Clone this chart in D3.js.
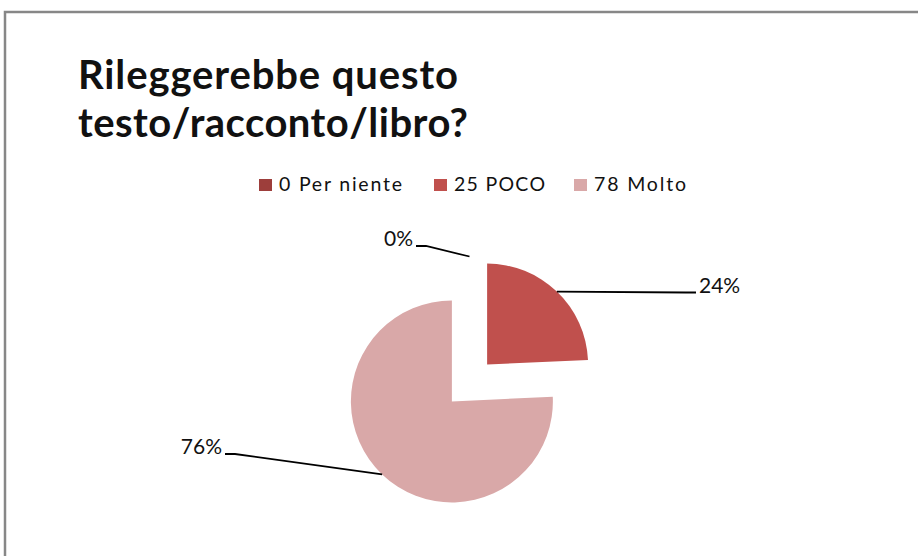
<!DOCTYPE html>
<html>
<head>
<meta charset="utf-8">
<script src="https://cdn.jsdelivr.net/npm/d3@7"></script>
<style>
  html, body { margin: 0; padding: 0; background: #fff; }
  svg { display: block; }
  text { font-family: Lato, "Open Sans", sans-serif; fill: #111; }
</style>
</head>
<body>
<svg id="chart" width="918" height="556"></svg>
<script>
// === data ===
const titleLines = ["Rileggerebbe questo", "testo/racconto/libro?"];
const categories = ["0 Per niente", "25 POCO", "78 Molto"];
const values = [0, 25, 78];
const colors = ["#9D3E3B", "#C0504D", "#D9A8A8"];

// layout
const W = 918, H = 556;
const cx = 469.5, cy = 383, radius = 101, explode = 25.5;
const titleWidths = [380, 390];          // rendered width of each title line
const legendX = [259, 434, 574];
const legendWidths = [123, 91, 92];
// where each data label sits (x,y = end of leader / text baseline)
const labelSpots = [
  { x: 416, y: 246, side: "left" },
  { x: 696, y: 292.5, side: "right" },
  { x: 225, y: 454, side: "left" }
];

const svg = d3.select("#chart");

svg.append("rect")
  .attr("width", W).attr("height", H)
  .attr("fill", "#fff");

// chart frame: only top and left edges are visible in the picture
svg.append("rect")
  .attr("x", 5).attr("y", 12)
  .attr("width", 1200).attr("height", 1200)
  .attr("fill", "none")
  .attr("stroke", "#878787")
  .attr("stroke-width", 2.5);

// title
svg.append("g").selectAll("text")
  .data(titleLines)
  .enter().append("text")
  .attr("x", 78)
  .attr("y", (d, i) => 89 + i * 48)
  .attr("font-size", 40)
  .attr("font-weight", "bold")
  .attr("textLength", (d, i) => titleWidths[i])
  .attr("lengthAdjust", "spacing")
  .text(d => d);

// legend
const legend = svg.append("g").selectAll("g")
  .data(categories)
  .enter().append("g")
  .attr("transform", (d, i) => `translate(${legendX[i]},179)`);

legend.append("rect")
  .attr("width", 13).attr("height", 12)
  .attr("fill", (d, i) => colors[i]);

legend.append("text")
  .attr("x", 20)
  .attr("y", 12)
  .attr("font-size", 19.5)
  .attr("textLength", (d, i) => legendWidths[i])
  .attr("lengthAdjust", "spacing")
  .text(d => d);

// pie
const total = d3.sum(values);
const pie = d3.pie().sort(null).value(d => d);
const arcs = pie(values);
const arc = d3.arc().innerRadius(0).outerRadius(radius);

function offset(a) {
  const mid = (a.startAngle + a.endAngle) / 2;
  return [Math.sin(mid) * explode, -Math.cos(mid) * explode];
}

const slices = svg.append("g")
  .attr("transform", `translate(${cx},${cy})`);

slices.selectAll("path")
  .data(arcs)
  .enter().append("path")
  .attr("transform", d => {
    const [dx, dy] = offset(d);
    return `translate(${dx},${dy})`;
  })
  .attr("d", arc)
  .attr("fill", (d, i) => colors[i]);

// leader lines + percentage labels
const fmtPct = v => Math.round(v / total * 100) + "%";

arcs.forEach((a, i) => {
  const mid = (a.startAngle + a.endAngle) / 2;
  const [dx, dy] = offset(a);
  const ax = cx + dx + Math.sin(mid) * radius;
  const ay = cy + dy - Math.cos(mid) * radius;
  const spot = labelSpots[i];
  const dir = spot.side === "left" ? 1 : -1;
  const pts = [[ax, ay], [spot.x + dir * 10, spot.y], [spot.x, spot.y]];

  svg.append("path")
    .attr("d", d3.line()(pts))
    .attr("fill", "none")
    .attr("stroke", "#000")
    .attr("stroke-width", 1.8);

  svg.append("text")
    .attr("x", spot.x + (spot.side === "left" ? -3 : 3))
    .attr("y", spot.y)
    .attr("text-anchor", spot.side === "left" ? "end" : "start")
    .attr("font-size", 21)
    .text(fmtPct(a.value));
});
</script>
</body>
</html>
